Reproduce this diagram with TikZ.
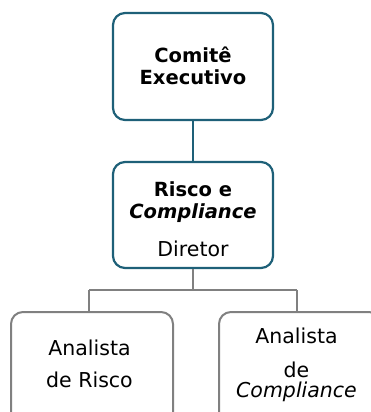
\documentclass[tikz,border=0pt]{standalone}
\usepackage{fontspec}
\setmainfont{DejaVu Sans}
\begin{document}
\begin{tikzpicture}[x=1pt,y=-1pt,
  topbox/.style={draw=teal1,line width=2.2pt,rounded corners=12pt,fill=white,minimum width=160pt,inner sep=0pt},
  lowbox/.style={draw=gray1,line width=2pt,rounded corners=12pt,fill=white,minimum width=162pt,minimum height=130pt,inner sep=0pt,anchor=north west},
  bt/.style={font=\fontsize{19.5}{22}\selectfont\bfseries,align=center,anchor=base,inner sep=0pt},
  rt/.style={font=\fontsize{20.5}{22}\selectfont,align=center,anchor=base,inner sep=0pt},
  tline/.style={draw=teal1,line width=2.2pt},
  gline/.style={draw=gray1,line width=2pt}]
\definecolor{teal1}{HTML}{1E6078}
\definecolor{gray1}{HTML}{808080}
\useasboundingbox (0,0) rectangle (371,412);
\clip (0,0) rectangle (371,412);
\node[topbox,minimum height=107pt] (b1) at (193,66.5) {};
\node[topbox,minimum height=106pt] (b2) at (193,215) {};
\draw[tline] (b1.south) -- (b2.north);
\node[lowbox] (b3) at (10,311) {};
\node[lowbox] (b4) at (218,311) {};
\coordinate (j0) at (193,290);
\coordinate (jl) at (89,290);
\coordinate (jr) at (297,290);
\draw[gline] (b2.south) -- (j0);
\draw[gline] (jl) -- (jr);
\draw[gline] (jl) -- (jl |- b3.north);
\draw[gline] (jr) -- (jr |- b4.north);
\node[bt] (t1) at (193,84.5) {Comitê\\Executivo};
\node[bt] (t2) at (193,218) {Risco e\\\itshape Compliance};
\node[rt] (t3) at (193,256) {Diretor};
\node[rt] (t4) at (89.5,387) {Analista\\[10pt]de Risco};
\node[rt] (t5) at (296.5,397) {Analista\\[12pt]de\\[-2pt]\itshape Compliance};
\end{tikzpicture}
\end{document}
